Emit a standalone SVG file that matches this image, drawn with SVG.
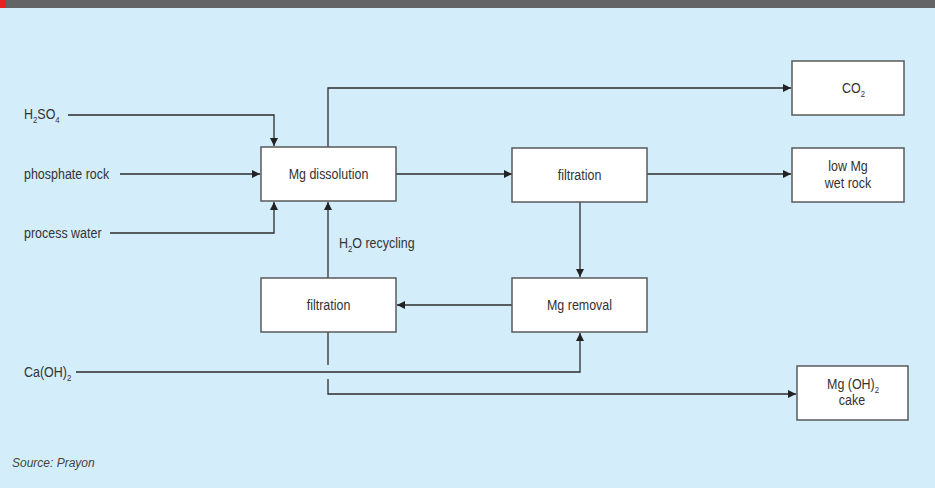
<svg xmlns="http://www.w3.org/2000/svg" width="935" height="488" viewBox="0 0 935 488">
<style>
.t{font-family:"Liberation Sans",Arial,sans-serif;font-size:14.5px;fill:#333;}
.m{text-anchor:middle;}
.s{font-size:9px;}
.box{fill:#fff;stroke:#5a5a5a;stroke-width:1.5;}
.c{fill:none;stroke:#2d2d2d;stroke-width:1.3;}
.src{font-family:"Liberation Sans",sans-serif;font-size:12px;font-style:italic;fill:#444;}
</style>
<defs>
<marker id="a" markerUnits="userSpaceOnUse" markerWidth="9" markerHeight="9" refX="8" refY="4" orient="auto">
<path d="M0,0 L8,4 L0,8 z" fill="#222"/>
</marker>
</defs>
<rect x="0" y="0" width="935" height="488" fill="#d3eefa"/>
<rect x="0" y="0" width="935" height="8" fill="#636466"/>
<rect x="0" y="0" width="6" height="8" fill="#e8202a"/>

<g id="connectors">
<path class="c" d="M68,115 H274 V146" marker-end="url(#a)"/>
<path class="c" d="M120,174 H260" marker-end="url(#a)"/>
<path class="c" d="M110,233 H274 V202" marker-end="url(#a)"/>
<path class="c" d="M328,147 V88 H791" marker-end="url(#a)"/>
<path class="c" d="M396,174 H512" marker-end="url(#a)"/>
<path class="c" d="M647,174 H791" marker-end="url(#a)"/>
<path class="c" d="M580,202 V277" marker-end="url(#a)"/>
<path class="c" d="M512,305 H397" marker-end="url(#a)"/>
<path class="c" d="M328,278 V202" marker-end="url(#a)"/>
<path class="c" d="M76,372 H580 V333" marker-end="url(#a)"/>
<path class="c" d="M328,332 V365"/>
<path class="c" d="M328,379 V394 H796" marker-end="url(#a)"/>
</g>

<g id="h2so4"><text class="t" transform="translate(24,119) scale(0.86,1)">H<tspan class="s" dy="4">2</tspan><tspan dy="-4">SO</tspan><tspan class="s" dy="4">4</tspan></text></g>
<g id="phosphate"><text class="t" transform="translate(24,179) scale(0.86,1)">phosphate rock</text></g>
<g id="water"><text class="t" transform="translate(24,238) scale(0.86,1)">process water</text></g>
<g id="caoh"><text class="t" transform="translate(24,377) scale(0.86,1)">Ca(OH)<tspan class="s" dy="4">2</tspan></text></g>

<g id="dissolution"><rect class="box" x="261" y="147" width="135" height="54"/><text class="t m" transform="translate(328.5,179) scale(0.86,1)">Mg dissolution</text></g>
<g id="filtration1"><rect class="box" x="512" y="148" width="135" height="54"/><text class="t m" transform="translate(579.5,180) scale(0.86,1)">filtration</text></g>
<g id="co2"><rect class="box" x="792" y="61" width="112" height="54"/><text class="t" transform="translate(842,93) scale(0.86,1)">CO<tspan class="s" dy="4">2</tspan></text></g>
<g id="lowmg"><rect class="box" x="792" y="148" width="112" height="54"/><text class="t m" transform="translate(848,171) scale(0.86,1)">low Mg</text><text class="t m" transform="translate(848,188) scale(0.86,1)">wet rock</text></g>
<g id="removal"><rect class="box" x="512" y="278" width="135" height="54"/><text class="t m" transform="translate(579.5,310) scale(0.86,1)">Mg removal</text></g>
<g id="filtration2"><rect class="box" x="261" y="278" width="135" height="54"/><text class="t m" transform="translate(328.5,310) scale(0.86,1)">filtration</text></g>
<g id="cake"><rect class="box" x="797" y="366" width="111" height="54"/><text class="t" transform="translate(827,389) scale(0.86,1)">Mg (OH)<tspan class="s" dy="4">2</tspan></text><text class="t m" transform="translate(852,405) scale(0.86,1)">cake</text></g>
<g id="recycling"><text class="t" transform="translate(339,248) scale(0.86,1)">H<tspan class="s" dy="4">2</tspan><tspan dy="-4">O recycling</tspan></text></g>
<g id="source"><text class="src" x="12" y="467">Source: Prayon</text></g>
</svg>
